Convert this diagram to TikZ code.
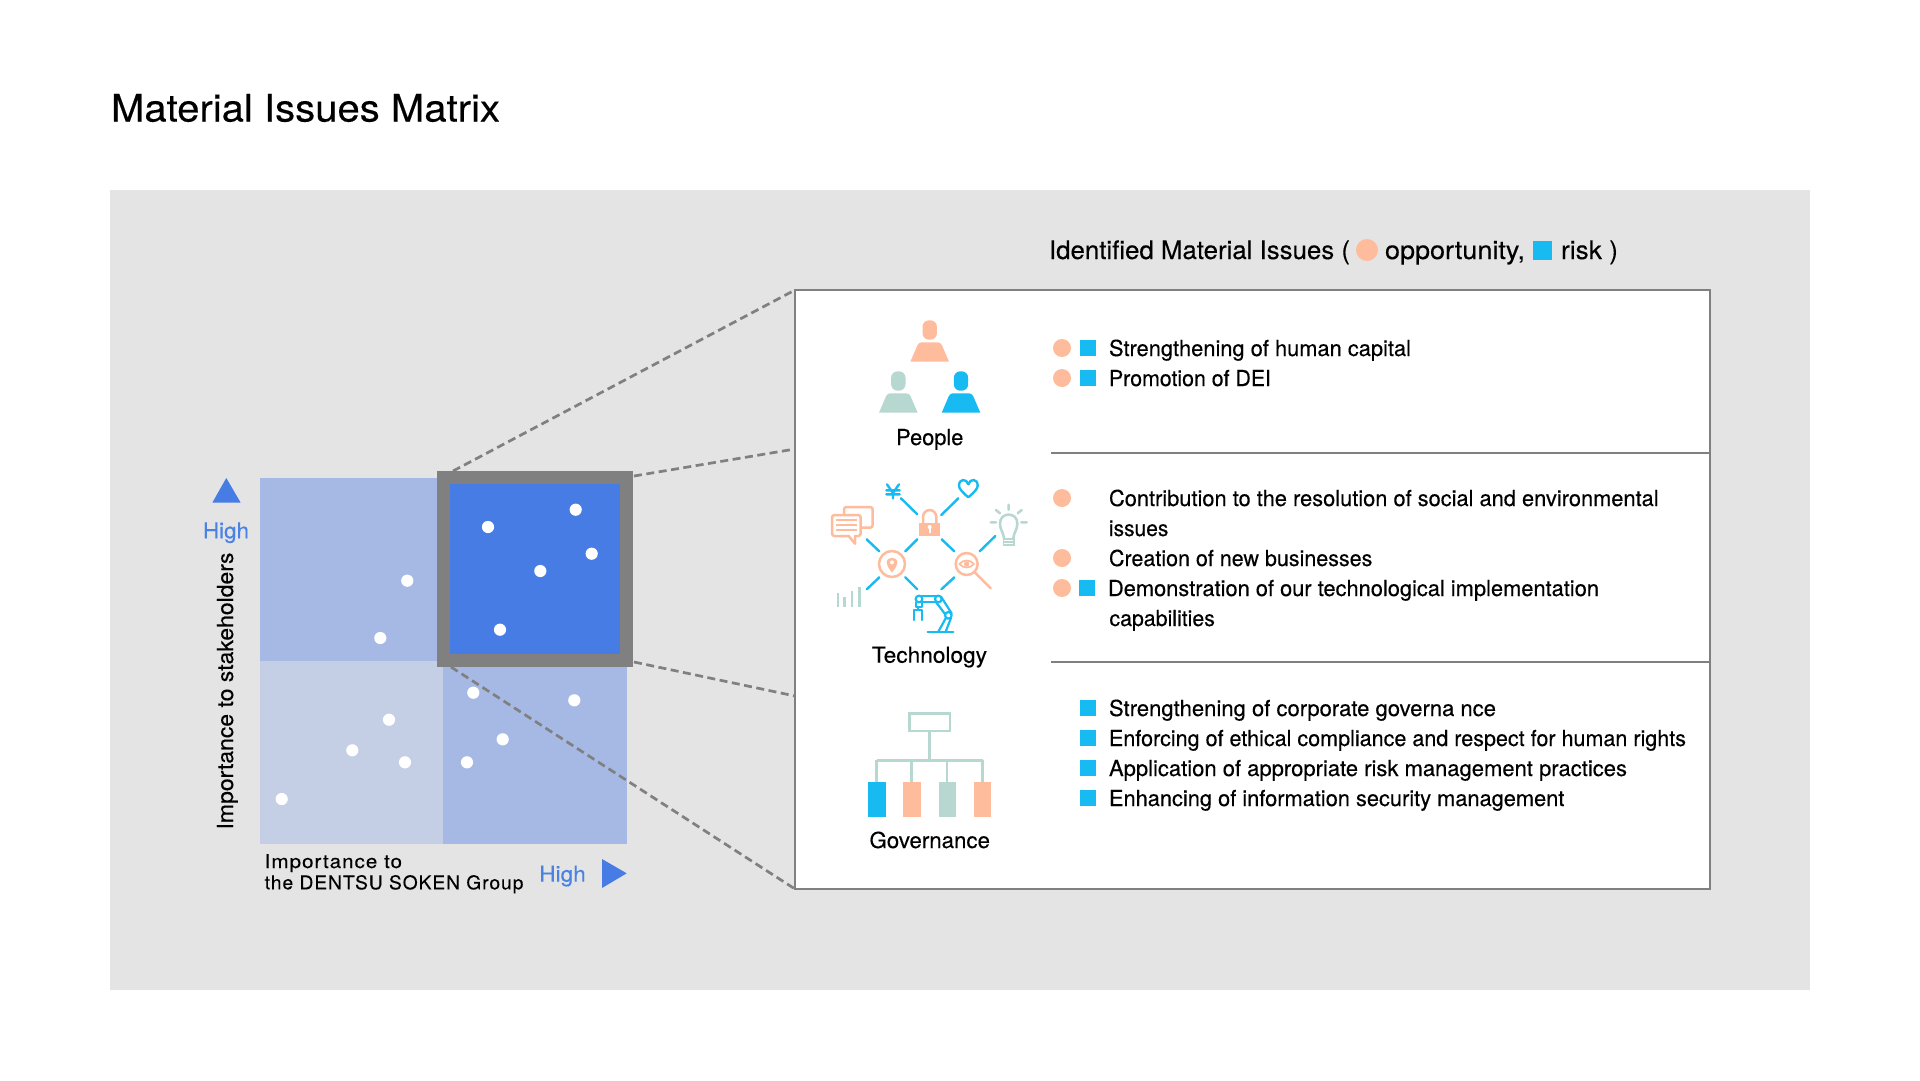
\documentclass[tikz,border=0pt]{standalone}
\usepackage{fontspec}
\usepackage{graphicx}
\setmainfont{TeX Gyre Heros}[FakeBold=0.25]
\definecolor{salmon}{HTML}{FFBC9C}
\definecolor{skyc}{HTML}{18BAF2}
\definecolor{mintc}{HTML}{B7D7D1}
\definecolor{blueq}{HTML}{477CE4}
\definecolor{midq}{HTML}{A6B9E5}
\definecolor{lightq}{HTML}{C4CFE5}
\definecolor{bggray}{HTML}{E4E4E4}
\definecolor{framec}{HTML}{808080}
\definecolor{highc}{HTML}{4A82E4}
\newsavebox\fitbox
\newcommand\fitw[2]{\sbox\fitbox{#2}\pgfmathsetmacro\fitr{#1pt/\wd\fitbox}\scalebox{\fitr}[1]{\usebox\fitbox}}
\newcommand\fsz[1]{\fontsize{#1}{#1}\selectfont}
\newcommand\oppdot[2]{\fill[salmon] (#1,#2) circle (9);}
\newcommand\rsksq[2]{\fill[skyc] (#1,#2-8) rectangle (#1+16,#2+8);}
\newcommand\personicon[3]{%
  \fill[#3,rounded corners=6.5pt] (#1-7.2,#2) rectangle (#1+7.2,#2+19.4);
  \fill[#3] (#1-19.3,#2+41.4) [rounded corners=3pt] -- (#1-11,#2+22) -- (#1+11,#2+22) [sharp corners] -- (#1+19.3,#2+41.4) -- cycle;}
\tikzset{
  txt/.style={inner sep=0,outer sep=0,anchor=base west,text=black},
  body/.style={txt,font=\fsz{22}},
  axis/.style={txt,text=highc,font=\fsz{22}},
  dot/.style={fill=white},
  dashc/.style={draw=framec,line width=2.7pt,dash pattern=on 8pt off 4.5pt},
  rule/.style={draw=framec,line width=2.7pt},
  linkc/.style={draw=skyc,line width=2.4pt,line cap=round},
  sal/.style={draw=salmon,line width=2.5pt,line cap=round,line join=round},
  mnt/.style={draw=mintc,line width=2.5pt,line cap=round,line join=round},
  rob/.style={draw=skyc,line width=2.2pt,line cap=round,line join=round},
  gov/.style={draw=mintc,line width=2.6pt},
}
\begin{document}
\begin{tikzpicture}[x=1pt,y=-1pt]
\useasboundingbox (0,0) rectangle (1920,1080);
\fill[white] (0,0) rectangle (1920,1080);
\node[txt,font=\fsz{38}] (title) at (111,121.5) {\fitw{389}{Material Issues Matrix}};
\fill[bggray] (110,190) rectangle (1810,990);
% matrix
\fill[midq] (260,477.5) rectangle (443,660.7);
\fill[lightq] (260,660.7) rectangle (443,844);
\fill[midq] (443,660.7) rectangle (627,844);
\foreach \px/\py in {407.3/580.7,380.3/638,473.3/692.7,574.3/700.3,389/719.7,502.7/739.3,352.3/750.3,405/762.3,467/762.3,281.7/799}
  \fill[dot] (\px,\py) circle (6.1);
% connector ends on the zoom frame
\coordinate (fa) at (453,471);
\coordinate (fb) at (634,476);
\coordinate (fc) at (634,662);
\coordinate (fd) at (451,667);
\coordinate (pb) at (795,449);
\coordinate (pc) at (795,696);
\node[draw=framec,fill=white,line width=2.8pt,minimum width=915,minimum height=599,inner sep=0,outer sep=0] (panel) at (1252.5,589.5) {};
\draw[dashc] (fa) -- (panel.north west);
\draw[dashc] (fb) -- (pb);
\draw[dashc] (fc) -- (pc);
\draw[dashc] (fd) -- (panel.south west);
\node[draw=framec,fill=blueq,line width=13pt,minimum width=183.6,minimum height=183.2,inner sep=0,outer sep=0] (frame) at (535,569) {};
\foreach \px/\py in {575.7/509.7,488/527,591.7/553.7,540.3/571,500/629.7}
  \fill[dot] (\px,\py) circle (6.1);
% axes
\fill[blueq] (212.3,502.7) -- (240.7,502.7) -- (226.3,478) -- cycle;
\fill[blueq] (602,859) -- (602,888) -- (626.7,873.3) -- cycle;
\node[axis] (hy) at (203,538.3) {\fitw{46}{High}};
\node[axis] (hx) at (539.3,881.7) {\fitw{46.5}{High}};
\node[txt,font=\fsz{22},rotate=90] (ylab) at (233,829.5) {\fitw{277}{Importance to stakeholders}};
\node[txt,font=\fsz{19}] (xl1) at (264.7,868) {\addfontfeature{LetterSpace=5}\fitw{137.3}{Importance to}};
\node[txt,font=\fsz{19}] (xl2) at (264.7,889.3) {\addfontfeature{LetterSpace=5}\fitw{258.7}{the DENTSU SOKEN Group}};
% heading
\node[txt,font=\fsz{25.5}] (h1) at (1049,259) {\fitw{301}{Identified Material Issues (}};
\fill[salmon] (1367,250) circle (11);
\node[txt,font=\fsz{25.5}] (h2) at (1385,259) {\fitw{140}{opportunity,}};
\fill[skyc] (1533,240.7) rectangle (1552,260);
\node[txt,font=\fsz{25.5}] (h3) at (1561,259) {\fitw{57}{risk )}};
% dividers
\coordinate (d1) at (1051,453);
\coordinate (d2) at (1051,662);
\draw[rule] (d1) -- (d1 -| panel.east);
\draw[rule] (d2) -- (d2 -| panel.east);
% people
\personicon{929.7}{320.3}{salmon}
\personicon{898.3}{371.3}{mintc}
\personicon{961}{371.3}{skyc}
\node[body] (pl) at (896.2,445) {\fitw{67.2}{People}};
% people rows
\oppdot{1062}{348}\rsksq{1080}{348}
\node[body] (r1) at (1109,356) {\fitw{302}{Strengthening of human capital}};
\oppdot{1062}{378}\rsksq{1080}{378}
\node[body] (r2) at (1109,386) {\fitw{162}{Promotion of DEI}};
% technology rows
\oppdot{1062}{498}
\node[body] (r3) at (1109,506) {\fitw{549.6}{Contribution to the resolution of social and environmental}};
\node[body] (r3b) at (1109,536) {\fitw{59.4}{issues}};
\oppdot{1062}{558}
\node[body] (r4) at (1109,566) {\fitw{263.4}{Creation of new businesses}};
\oppdot{1062}{588}\rsksq{1079}{588}
\node[body] (r5) at (1108,596) {\fitw{491}{Demonstration of our technological implementation}};
\node[body] (r5b) at (1109.5,626) {\fitw{105.4}{capabilities}};
% governance rows
\rsksq{1080}{708}
\node[body] (r6) at (1109,716) {\fitw{387}{Strengthening of corporate governa nce}};
\rsksq{1080}{738}
\node[body] (r7) at (1109,746) {\fitw{577}{Enforcing of ethical compliance and respect for human rights}};
\rsksq{1080}{768}
\node[body] (r8) at (1109,776) {\fitw{518}{Application of appropriate risk management practices}};
\rsksq{1080}{798}
\node[body] (r9) at (1109,806) {\fitw{455.4}{Enhancing of information security management}};
% technology icon
\begin{scope}[shift={(800,460)},scale=1/3]
  \foreach \ax/\ay/\bx/\by in {303/115/352/163,475/115/424/165,200/238/238/274,352/238/316/274,425/238/463/274,586/228/539/274,238/352/200/388,316/352/352/388,463/352/424/388}
    \draw[linkc] (\ax,\ay) -- (\bx,\by);
  % yen
  \draw[linkc] (261,73) -- (279,99) -- (297,73) (279,99) -- (279,115) (259,91) -- (299,91) (259,103) -- (299,103);
  % heart
  \draw[linkc,line join=round] (505,112) .. controls (485,95) and (477,85) .. (477,77) .. controls (477,55) and (500,55) .. (505,73) .. controls (510,55) and (533,55) .. (533,77) .. controls (533,85) and (525,95) .. (505,112) -- cycle;
  % bubbles
  \draw[sal,rounded corners=2.5pt] (132,164) -- (132,141) -- (218,141) -- (218,203) -- (184,203);
  \draw[sal,rounded corners=2.5pt] (165,228) -- (182,228) -- (182,165) -- (96,165) -- (96,228) -- (146,228);
  \draw[sal] (146,228) -- (165,251) -- (165,228);
  \draw[sal,line cap=butt] (108,180) -- (170,180) (108,195) -- (170,195) (108,210) -- (170,210);
  % lock
  \fill[salmon] (358,188) rectangle (420,228);
  \draw[sal] (369,188) -- (369,172) .. controls (369,143) and (409,143) .. (409,172) -- (409,188);
  \fill[white] (389,201) circle (6);
  \fill[white] (386,201) rectangle (392,218);
  % pin
  \draw[sal] (276,312) circle (39);
  \fill[salmon] (276,338) .. controls (264,322) and (260,315) .. (260,308) .. controls (260,288) and (292,288) .. (292,308) .. controls (292,315) and (288,322) .. (276,338) -- cycle;
  \fill[white] (276,307) circle (6);
  % magnifier
  \draw[sal] (500,312) circle (33);
  \draw[sal] (525,338) -- (572,385);
  \draw[sal,line width=1.7pt] (478,312) .. controls (490,298) and (510,298) .. (522,312) .. controls (510,326) and (490,326) .. (478,312) -- cycle;
  \fill[salmon] (500,312) circle (8);
  % bulb
  \draw[mnt] (612,235) .. controls (610,215) and (600,210) .. (600,190) .. controls (600,155) and (652,155) .. (652,190) .. controls (652,210) and (642,215) .. (640,235);
  \fill[mintc] (608,235) rectangle (644,258);
  \fill[white] (613,241) rectangle (639,244);
  \fill[white] (613,248) rectangle (639,251);
  \draw[mnt] (626,134) -- (626,149) (588,150) -- (600,160) (665,150) -- (653,160) (572,187) -- (588,187) (664,187) -- (680,187);
  % bars
  \draw[mnt,line cap=butt] (114,400) -- (114,440) (134,410) -- (134,440) (156,392) -- (156,440) (178,382) -- (178,440);
\end{scope}
% robot
\begin{scope}[shift={(905,590)},scale=1/3]
  \draw[rob] (68,125) -- (145,125);
  \draw[rob] (42,17) -- (100,17) (50,36) -- (92,36);
  \draw[rob] (42,27) circle (10) (100,27) circle (10) (130,76) circle (10);
  \draw[rob] (108,20) -- (140,70) (92,35) -- (120,72);
  \draw[rob] (122,85) -- (100,125) (138,84) -- (122,125);
  \draw[rob] (32,37) -- (32,50) -- (52,50) -- (52,37);
  \draw[rob] (27,90) -- (27,60) -- (52,60) -- (52,90) (40,50) -- (40,60);
\end{scope}
\node[body] (tl) at (872,662.7) {\fitw{115}{Technology}};
% governance icon
\begin{scope}[shift={(820,690)},scale=1/3]
  \draw[gov] (268,70) rectangle (390,123);
  \draw[gov] (328,123) -- (328,211) (170,211) -- (488,211) (170,211) -- (170,277) (275,211) -- (275,277) (381,211) -- (381,277) (488,211) -- (488,277);
  \fill[skyc] (145,277) rectangle (197,380);
  \fill[salmon] (250,277) rectangle (302,380);
  \fill[mintc] (356,277) rectangle (408,380);
  \fill[salmon] (462,277) rectangle (514,380);
\end{scope}
\node[body] (gl) at (869.5,848) {\fitw{120.5}{Governance}};
\end{tikzpicture}
\end{document}
